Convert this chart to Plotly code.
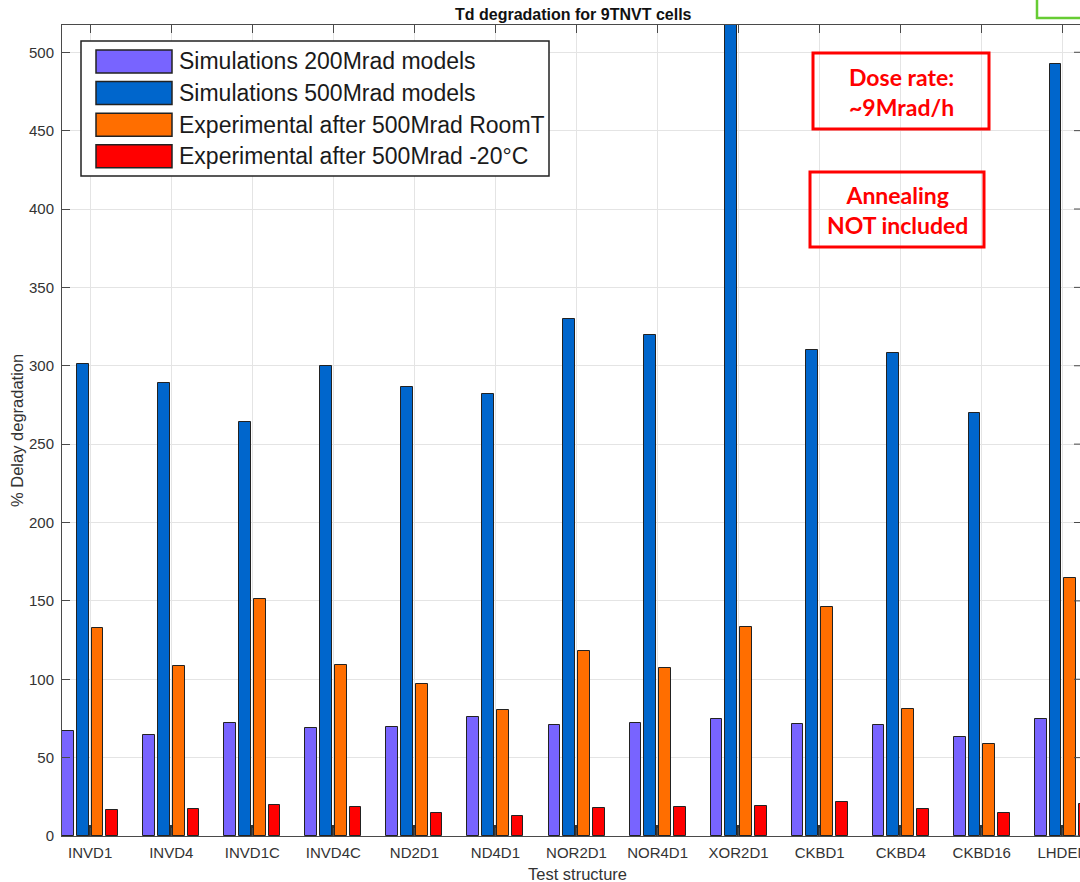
import plotly.graph_objects as go

# Test structures (standard cells) along the x axis
cells = ["INVD1", "INVD4", "INVD1C", "INVD4C", "ND2D1", "ND4D1", "NOR2D1",
         "NOR4D1", "XOR2D1", "CKBD1", "CKBD4", "CKBD16", "LHDEN"]

# % delay degradation per test structure
sim_200 = [67.0, 64.5, 72.1, 68.7, 69.4, 75.8, 70.5, 72.4, 74.7, 71.3, 71.1, 63.2, 74.5]
sim_500 = [300.9, 288.9, 264.2, 300.0, 286.6, 281.9, 329.6, 319.4, 560.0, 309.8, 307.9, 269.6, 492.3]
exp_room = [132.4, 108.2, 151.1, 108.8, 97.0, 80.7, 118.2, 107.2, 133.5, 146.3, 81.1, 58.5, 164.8]
exp_cold = [16.4, 17.0, 20.0, 18.7, 14.7, 13.0, 18.1, 18.5, 19.4, 21.5, 17.5, 14.7, 20.2]
baseline_stub = [7.0] * 13

series_names = ["Simulations 200Mrad models", "Simulations 500Mrad models",
                "Experimental after 500Mrad RoomT", "Experimental after 500Mrad -20°C"]
series_colors = ["#7864ff", "#0066cc", "#ff6e00", "#ff0000"]
series_values = [sim_200, sim_500, exp_room, exp_cold]

Y_MAX = 517.4
Y_TICKS = list(range(0, 501, 50))

# plot-area geometry in pixels
W, H = 1080, 882
L, R, T, B = 62, 1080, 25, 836


def px(x):
    return (x - L) / (R - L)


def py(y):
    return (B - y) / (B - T)


BAR_W = 0.145
CENTERS = [-0.273, -0.091, 0.091, 0.273]

fig = go.Figure()

# small dark stub sitting behind the middle of each group
fig.add_trace(go.Bar(
    x=cells, y=baseline_stub, width=0.05, offset=-0.025,
    marker=dict(color="#333333", line=dict(width=0)),
    showlegend=False, hoverinfo="skip",
))

for name, color, vals, c in zip(series_names, series_colors, series_values, CENTERS):
    fig.add_trace(go.Bar(
        x=cells, y=vals, name=name, width=BAR_W, offset=c - BAR_W / 2,
        marker=dict(color=color, line=dict(color="#222222", width=1)),
        showlegend=False,
    ))

axis_common = dict(
    showline=True, linecolor="#4a4a4a", linewidth=1,
    ticks="inside", ticklen=8, tickcolor="#4a4a4a", tickwidth=1,
    showgrid=True, gridcolor="#e4e4e4", gridwidth=1, zeroline=False,
    tickfont=dict(family="Liberation Sans", size=15, color="#333333"),
    automargin=False,
)

fig.update_layout(
    width=W, height=H,
    margin=dict(l=L, r=W - R, t=T, b=H - B),
    paper_bgcolor="white", plot_bgcolor="white",
    barmode="overlay", bargap=0,
    xaxis=dict(type="category", categoryorder="array", categoryarray=cells,
               range=[-0.348, 12.212], mirror="ticks", ticklabelstandoff=3, **axis_common),
    yaxis=dict(range=[0, Y_MAX], tickvals=Y_TICKS, ticklabelstandoff=4,
               mirror=False, **axis_common),
    showlegend=False,
)

annotations = []
shapes = []

# short inward tick marks along the right-hand frame edge
for v in Y_TICKS:
    shapes.append(dict(type="line", xref="paper", yref="y", x0=1.0, x1=px(R - 6),
                       y0=v, y1=v, line=dict(color="#4a4a4a", width=1)))

# chart and axis titles
annotations.append(dict(text="<b>Td degradation for 9TNVT cells</b>", x=px(573), y=py(14),
                        xref="paper", yref="paper", showarrow=False,
                        font=dict(family="Liberation Sans", size=16, color="#111111"),
                        xanchor="center", yanchor="middle"))
annotations.append(dict(text="Test structure", x=px(577), y=py(874),
                        xref="paper", yref="paper", showarrow=False,
                        font=dict(family="Liberation Sans", size=16.5, color="#333333"),
                        xanchor="center", yanchor="middle"))
annotations.append(dict(text="% Delay degradation", x=px(17), y=py(431),
                        xref="paper", yref="paper", showarrow=False, textangle=-90,
                        font=dict(family="Liberation Sans", size=16.5, color="#333333"),
                        xanchor="center", yanchor="middle"))

# legend box with long swatches
shapes.append(dict(type="rect", xref="paper", yref="paper",
                   x0=px(81), x1=px(549), y0=py(41), y1=py(176),
                   fillcolor="white", line=dict(color="#222222", width=1.5), layer="above"))
row_y = [61.5, 93.0, 124.8, 156.3]
for name, color, yy in zip(series_names, series_colors, row_y):
    shapes.append(dict(type="rect", xref="paper", yref="paper",
                       x0=px(96), x1=px(172), y0=py(yy - 11.5), y1=py(yy + 11.5),
                       fillcolor=color, line=dict(color="#222222", width=1.5), layer="above"))
    annotations.append(dict(text=name, x=px(177), y=py(yy), xref="paper", yref="paper",
                            showarrow=False, xanchor="left", yanchor="middle",
                            font=dict(family="Liberation Sans", size=23, color="#1a1a1a")))

# red note boxes
red_font = dict(family="Lato", size=23, color="#ff0000", weight="bold")
shapes.append(dict(type="rect", xref="paper", yref="paper",
                   x0=px(813), x1=px(989), y0=py(53), y1=py(129),
                   line=dict(color="#ff0000", width=3), layer="above"))
annotations.append(dict(text="Dose rate:<br>~9Mrad/h", x=px(901), y=py(92),
                        xref="paper", yref="paper", showarrow=False,
                        xanchor="center", yanchor="middle", font=red_font))
shapes.append(dict(type="rect", xref="paper", yref="paper",
                   x0=px(810), x1=px(984), y0=py(172), y1=py(247),
                   line=dict(color="#ff0000", width=3), layer="above"))
annotations.append(dict(text="Annealing<br>NOT included", x=px(897), y=py(210),
                        xref="paper", yref="paper", showarrow=False,
                        xanchor="center", yanchor="middle", font=red_font))

# green frame peeking in at the top-right corner
shapes.append(dict(type="rect", xref="paper", yref="paper",
                   x0=px(1037), x1=px(1120), y0=py(18), y1=py(-20),
                   line=dict(color="#66cc33", width=2.5), layer="above"))

fig.update_layout(annotations=annotations, shapes=shapes)

fig.write_html("out.html", config={"displayModeBar": False})
